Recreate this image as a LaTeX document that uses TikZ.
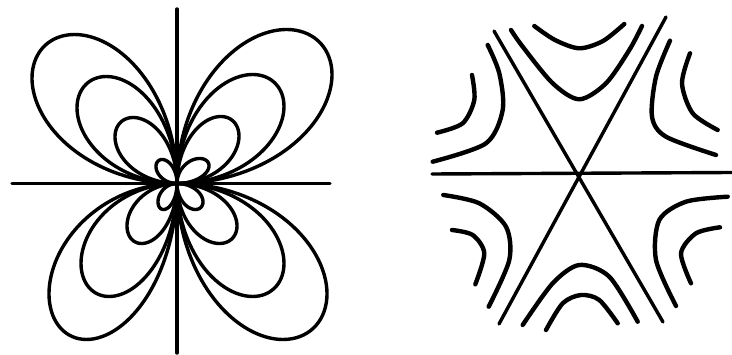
\documentclass[tikz,border=0pt]{standalone}
\begin{document}
\begin{tikzpicture}[x=1pt,y=-1pt,line cap=round,line join=round,
  axisline/.style={line width=3.4pt},
  lobeline/.style={line width=3.4pt},
  hypline/.style={line width=4.4pt}]
\useasboundingbox (0,0) rectangle (732,355);
% ---------- left figure ----------
\coordinate (L) at (177,183.5);
\draw[axisline] (177,9) -- (177,353);
\draw[axisline] (12,183.5) -- (330,183.5);
\newcommand{\mylobe}[2]{%
  \draw[lobeline,shift={(L)}] plot[domain=0:90,samples=80,smooth]
    ({#1/0.7698*sin(2*\x)*cos(\x)},{#2/0.7698*sin(2*\x)*sin(\x)});}
\foreach \a/\b in {-145/-149,-100/-107,-62/-66,-21/-24,
                   155/-154,107/-109,62/-67,32/-25,
                   -128/156,-96/113,-50/60,-19/26,
                   150/156,107/113,60/60,26/26}{\mylobe{\a}{\b}}
% ---------- right figure ----------
\coordinate (R) at (579,173.5);
\draw[axisline] (432,174) -- (732,172.5);
\draw[axisline] (494,31) -- (663,322);
\draw[axisline] (666,17) -- (499,324);
% top
\draw[hypline] plot[smooth] coordinates {(511,30) (522.7,46.7) (552.7,83.3) (579.3,99.3) (606,83.3) (629.3,50) (642,26)};
\draw[hypline] plot[smooth] coordinates {(534.3,26) (555,40) (579.3,48.3) (603,41) (624.3,24)};
% bottom
\draw[hypline] plot[smooth] coordinates {(522.7,325) (552.7,283.3) (579.3,265) (609.3,276.7) (637.7,321.7)};
\draw[hypline] plot[smooth] coordinates {(546,330) (562.7,303.3) (581,295) (599.3,300) (617.7,323.3)};
% upper left
\draw[hypline] plot[smooth] coordinates {(487.7,45) (499.3,73.3) (502.7,110) (486,143.3) (432.7,161.7)};
\draw[hypline] plot[smooth] coordinates {(472,75) (474.3,100) (462.7,123.3) (437,132.7)};
% upper right
\draw[hypline] plot[smooth] coordinates {(670,40.7) (656,76.7) (652,116.7) (666,136.7) (716,155)};
\draw[hypline] plot[smooth] coordinates {(690,53.3) (682,83.3) (692.7,113.3) (717.7,130)};
% lower left
\draw[hypline] plot[smooth] coordinates {(443.3,195) (479.3,203.3) (506,226.7) (509.3,260) (488.7,306.7)};
\draw[hypline] plot[smooth] coordinates {(452,230) (472.7,235) (484.3,253.3) (475.3,284.3)};
% lower right
\draw[hypline] plot[smooth] coordinates {(727.7,196.7) (686,201.7) (659.3,220) (656,260) (676,306)};
\draw[hypline] plot[smooth] coordinates {(720,227.3) (696,233.3) (681,253.3) (691,283.3)};
\end{tikzpicture}
\end{document}
